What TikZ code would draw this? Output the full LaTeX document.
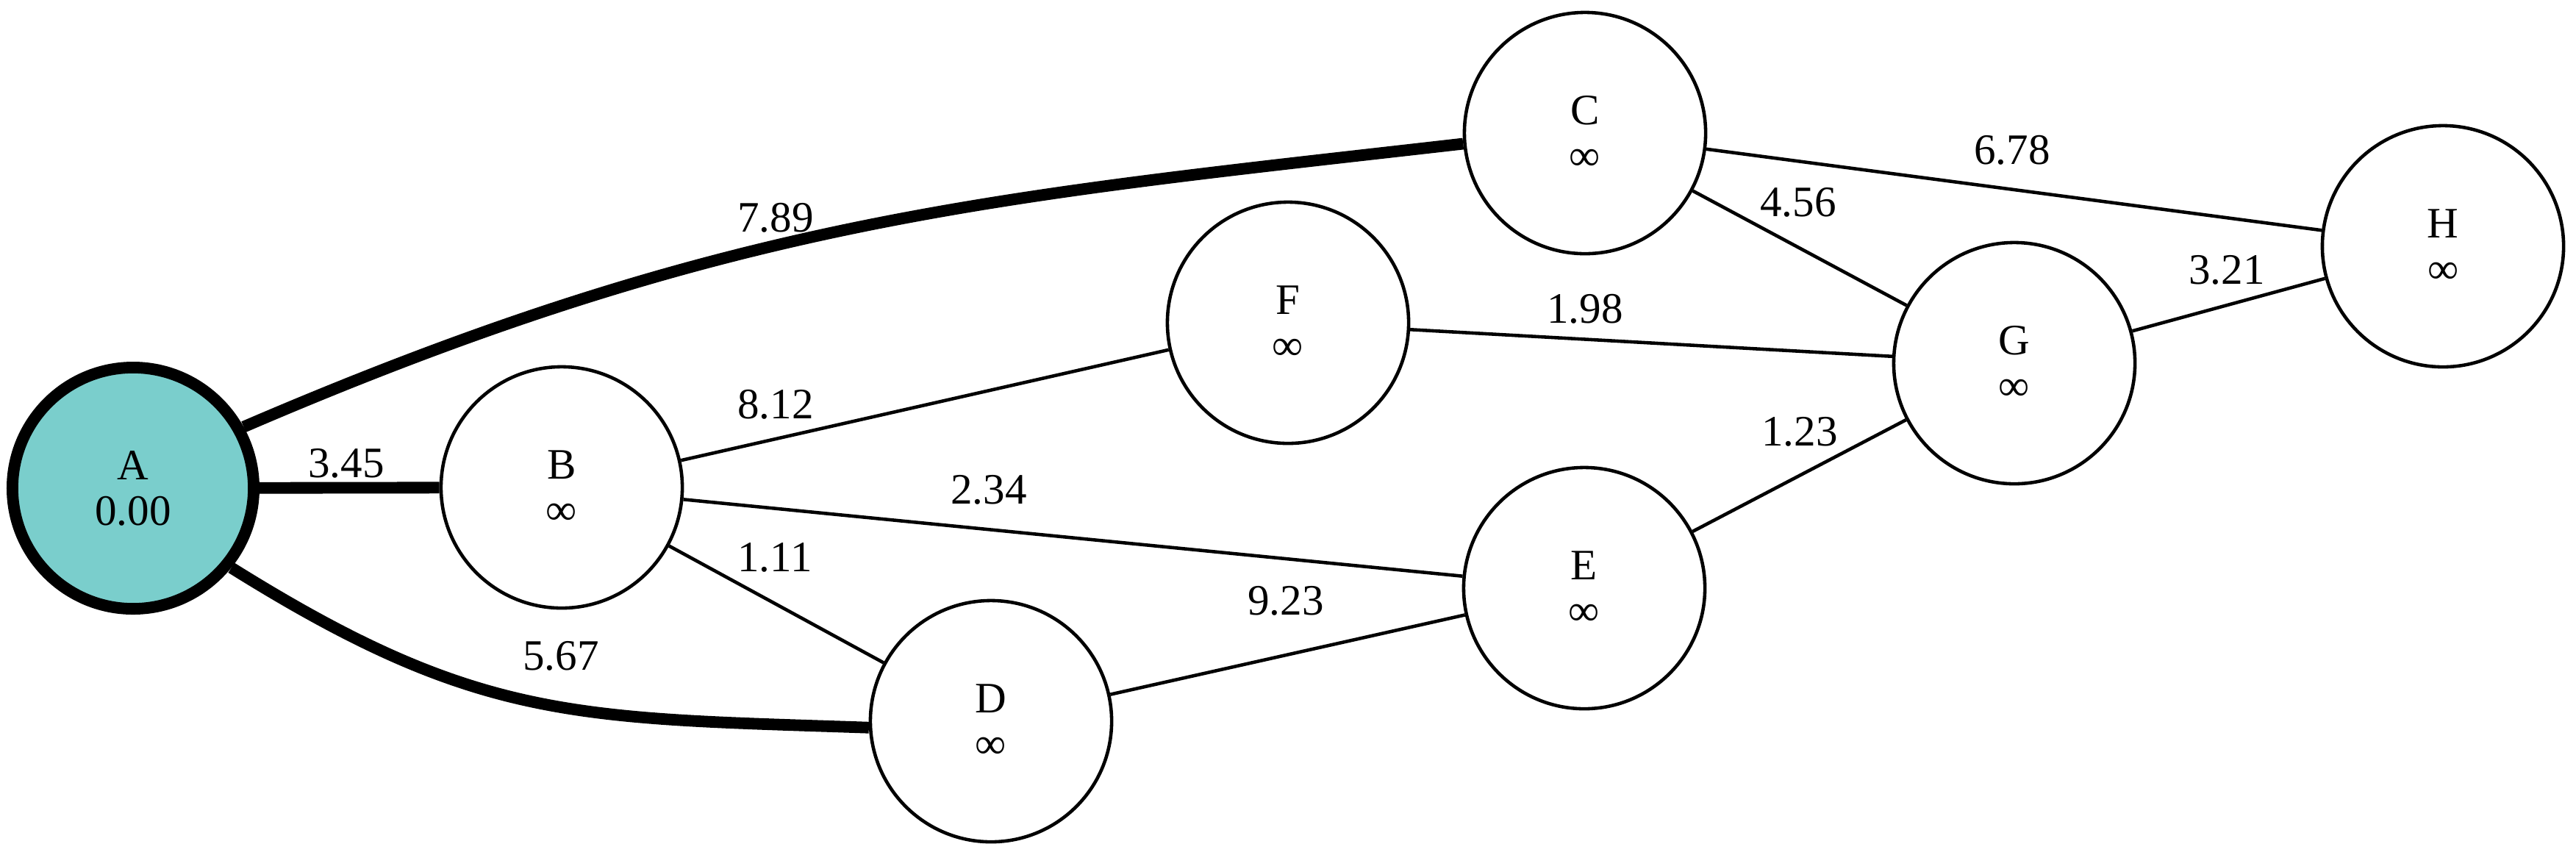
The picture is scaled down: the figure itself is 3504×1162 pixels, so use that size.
\documentclass[tikz,border=0pt]{standalone}
\usepackage{fontspec}
\setmainfont{Liberation Serif}
\definecolor{srcfill}{RGB}{122,206,204}
\begin{document}
\begin{tikzpicture}[x=0.01cm,y=-0.01cm,
  vertex/.style={circle,draw,line width=1.3pt,inner sep=0pt,minimum size=3.28cm,
    align=center,font=\fontsize{16.8}{17.6}\selectfont},
  srcvertex/.style={vertex,fill=srcfill,line width=4.5pt},
  thin edge/.style={line width=1.3pt},
  heavy edge/.style={line width=4.5pt},
  wlabel/.style={font=\fontsize{16.8}{17.6}\selectfont,inner sep=0pt}]
\useasboundingbox (0,0) rectangle (3504,1162);
% nodes
\node[srcvertex] (A) at (181,664) {A\\0.00};
\node[vertex] (B) at (764,663) {B\\∞};
\node[vertex] (C) at (2156,181) {C\\∞};
\node[vertex] (F) at (1752,439) {F\\∞};
\node[vertex] (G) at (2740,494) {G\\∞};
\node[vertex] (H) at (3323,335) {H\\∞};
\node[vertex] (E) at (2155,800) {E\\∞};
\node[vertex] (D) at (1348,981) {D\\∞};
% heavy edges
\draw[heavy edge] (A) -- (B);
\draw[heavy edge] (A.29) .. controls (993,296) and (1347,269) .. (C.185);
\draw[heavy edge] (A.-39) .. controls (652,983) and (784,976) .. (D.183);
% thin edges
\draw[thin edge] (B) -- (F);
\draw[thin edge] (B) -- (E);
\draw[thin edge] (B) -- (D);
\draw[thin edge] (D) -- (E);
\draw[thin edge] (F) -- (G);
\draw[thin edge] (C) -- (G);
\draw[thin edge] (C) -- (H);
\draw[thin edge] (E) -- (G);
\draw[thin edge] (G) -- (H);
% labels
\node[wlabel] (lab) at (471,630) {3.45};
\node[wlabel] (lac) at (1055,296) {7.89};
\node[wlabel] (lad) at (763,892) {5.67};
\node[wlabel] (lbf) at (1055,550) {8.12};
\node[wlabel] (lbe) at (1345,666) {2.34};
\node[wlabel] (lbd) at (1054,758) {1.11};
\node[wlabel] (lde) at (1749,817) {9.23};
\node[wlabel] (lfg) at (2156,420) {1.98};
\node[wlabel] (lcg) at (2446,275) {4.56};
\node[wlabel] (lch) at (2737,204) {6.78};
\node[wlabel] (leg) at (2448,587) {1.23};
\node[wlabel] (lgh) at (3029,367) {3.21};
\end{tikzpicture}
\end{document}
